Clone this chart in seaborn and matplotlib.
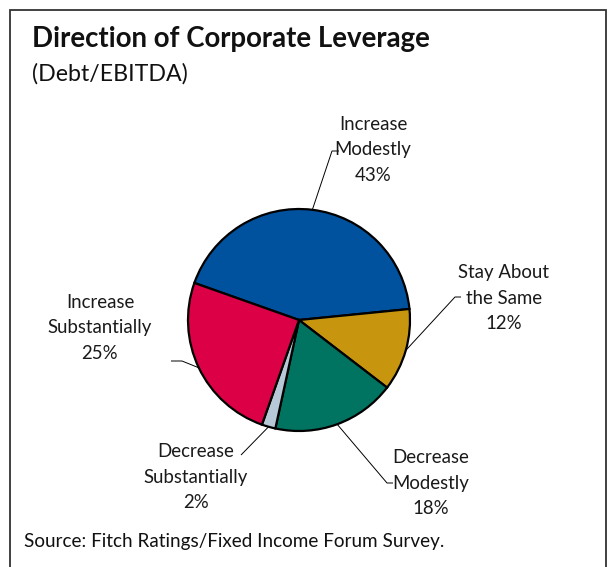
import matplotlib
matplotlib.use("Agg")
import matplotlib.pyplot as plt
import seaborn as sns
import numpy as np

# Survey responses: direction of corporate leverage (Debt/EBITDA)
categories = ["Increase\nModestly", "Stay About\nthe Same", "Decrease\nModestly",
              "Decrease\nSubstantially", "Increase\nSubstantially"]
shares = [43, 12, 18, 2, 25]
colors = ["#00529F", "#C8960E", "#007460", "#B7C8D6", "#DC0046"]

title = "Direction of Corporate Leverage"
subtitle = "(Debt/EBITDA)"
source = "Source: Fitch Ratings/Fixed Income Forum Survey."

sns.set_theme(style="white")
plt.rcParams["font.family"] = ["Lato", "DejaVu Sans"]

W, H = 609, 567
fig = plt.figure(figsize=(W / 100, H / 100), dpi=100)
ax = fig.add_axes([0, 0, 1, 1])


def Y(py):
    return H - py


cx, cy, r = 299, Y(320), 111
start = 160.5
wedges, _ = ax.pie(shares, colors=colors, startangle=start, counterclock=False,
                   center=(cx, cy), radius=r,
                   wedgeprops=dict(edgecolor="black", linewidth=1.6))

# pie() rescales the axes; put the pixel-sized canvas back afterwards
ax.set_xlim(0, W)
ax.set_ylim(0, H)
ax.set_aspect("equal")
ax.axis("off")

# label centre, elbow and end of the short horizontal leader piece
label_pos = [(373, 150), (504, 298), (431, 483), (196, 477), (100, 328)]
elbows = [(332, 151), (455, 297), (387, 483), (241, 455), (182, 361)]
tails = [(339, 151), (461, 297), (393, 483), None, (171, 361)]

total = sum(shares)
acc = 0
for i, (lab, s) in enumerate(zip(categories, shares)):
    mid = start - 360 * (acc + s / 2) / total
    acc += s
    a = np.deg2rad(mid)
    ex, ey = cx + r * np.cos(a), cy + r * np.sin(a)
    lx, ly = label_pos[i]
    ax.text(lx, Y(ly), f"{lab}\n{s}%", ha="center", va="center",
            fontsize=13.4, linespacing=1.64, color="#1a1a1a")
    bx, by = elbows[i]
    xs, ys = [ex, bx], [ey, Y(by)]
    if tails[i] is not None:
        xs.append(tails[i][0])
        ys.append(Y(tails[i][1]))
    ax.plot(xs, ys, color="black", linewidth=0.7, solid_capstyle="butt")

ax.text(32, Y(38.5), title, fontsize=19.9, fontweight="bold", ha="left", va="center",
        color="#111111")
ax.text(32, Y(74), subtitle, fontsize=16.7, ha="left", va="center", color="#111111")
ax.text(24, Y(541), source, fontsize=13.6, ha="left", va="center", color="#111111")

# frame, open at the bottom edge
ax.plot([10, 10, 606, 606], [0, Y(10), Y(10), 0], color="#333333", linewidth=1.3,
        solid_joinstyle="miter")

fig.savefig("out.png", dpi=100)
